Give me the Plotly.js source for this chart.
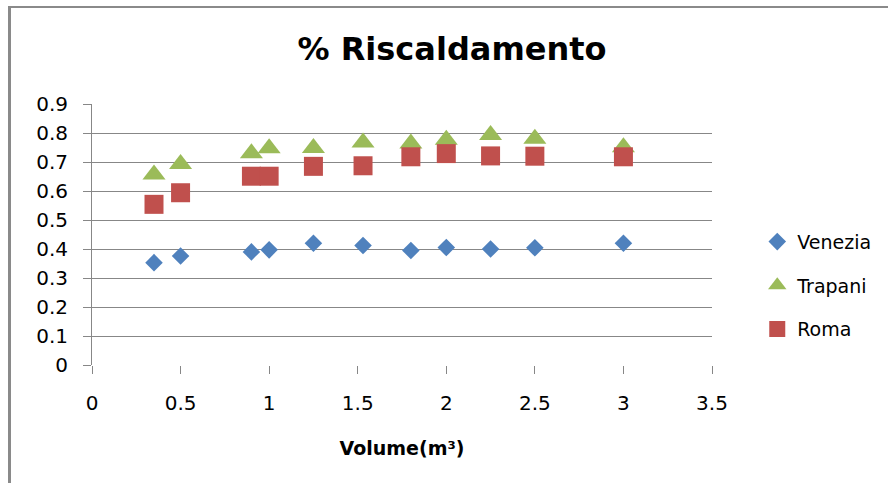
<!DOCTYPE html>
<html>
<head>
<meta charset="utf-8">
<script src="https://cdn.plot.ly/plotly-3.0.1.min.js"></script>
<style>
  html, body { margin: 0; padding: 0; background: #fff; }
  #wrap { position: relative; width: 888px; height: 483px; overflow: hidden; }
  #chart { width: 888px; height: 483px; }
  #frame { position: absolute; left: 8px; top: 6px; width: 900px; height: 500px;
           border-left: 3px solid #8a8a8a; border-top: 2px solid #8a8a8a; pointer-events: none; }
</style>
</head>
<body>
<div id="wrap">
  <div id="chart"></div>
  <div id="frame"></div>
</div>
<script>
// Volume (m³)
const volume = [0.35, 0.5, 0.9, 1.0, 1.25, 1.53, 1.8, 2.0, 2.25, 2.5, 3.0];
const venezia = [0.353, 0.376, 0.390, 0.397, 0.420, 0.412, 0.395, 0.405, 0.400, 0.404, 0.420];
const trapani = [0.657, 0.693, 0.730, 0.747, 0.748, 0.767, 0.764, 0.777, 0.793, 0.780, 0.751];
const roma    = [0.554, 0.594, 0.651, 0.651, 0.685, 0.687, 0.718, 0.729, 0.721, 0.720, 0.718];
const seriesNames = ["Venezia", "Trapani", "Roma"];
const xTicks = [0, 0.5, 1, 1.5, 2, 2.5, 3, 3.5];
const yTicks = [0, 0.1, 0.2, 0.3, 0.4, 0.5, 0.6, 0.7, 0.8, 0.9];

const FONT = "DejaVu Sans, Liberation Sans, sans-serif";
const GRID = "#878787";

const traces = [
  { x: volume, y: venezia, name: seriesNames[0], legendgroup: "a", type: "scatter", mode: "markers",
    marker: { symbol: "diamond", size: 13.5, color: "#4F81BD" } },
  { x: volume, y: trapani, name: seriesNames[1], legendgroup: "b", type: "scatter", mode: "markers",
    marker: { symbol: "triangle-up", size: 20, color: "#9BBB59" } },
  { x: volume, y: roma, name: seriesNames[2], legendgroup: "c", type: "scatter", mode: "markers",
    marker: { symbol: "square", size: 19, color: "#C0504D" } }
];

const layout = {
  width: 888, height: 483,
  paper_bgcolor: "rgba(0,0,0,0)", plot_bgcolor: "#fff",
  margin: { l: 92, r: 173, t: 104, b: 118, pad: 0 },
  font: { family: FONT, color: "#000" },
  title: { text: "% Riscaldamento", font: { family: FONT, size: 32, color: "#000", weight: "bold" },
           xref: "container", x: 452 / 888, xanchor: "center",
           yref: "container", y: 1 - 49 / 483, yanchor: "middle" },
  xaxis: {
    range: [0, 3.5], tickvals: xTicks, ticktext: xTicks.map(String),
    showgrid: false, zeroline: false, showline: false,
    ticks: "outside", ticklen: 8, tickcolor: GRID, tickwidth: 1,
    tickfont: { family: FONT, size: 20, color: "#000" }, ticklabelstandoff: 12,
    title: { text: "<b>Volume(m³)</b>", font: { family: FONT, size: 19, color: "#000" }, standoff: 27 },
    fixedrange: true
  },
  yaxis: {
    range: [0, 0.9], tickvals: yTicks, ticktext: yTicks.map(v => v === 0 ? "0" : v.toFixed(1)),
    showgrid: true, gridcolor: GRID, gridwidth: 1, zeroline: false,
    showline: true, linecolor: GRID, linewidth: 1,
    ticks: "outside", ticklen: 8, tickcolor: GRID, tickwidth: 1,
    tickfont: { family: FONT, size: 20, color: "#000" }, ticklabelstandoff: 11,
    fixedrange: true
  },
  showlegend: true,
  legend: { x: 1.073, xanchor: "left", y: 0.545, yanchor: "top",
            font: { family: FONT, size: 19, color: "#000" },
            traceorder: "grouped", tracegroupgap: 16, bgcolor: "rgba(0,0,0,0)" }
};

Plotly.newPlot("chart", traces, layout, { displayModeBar: false, staticPlot: true });
</script>
</body>
</html>
